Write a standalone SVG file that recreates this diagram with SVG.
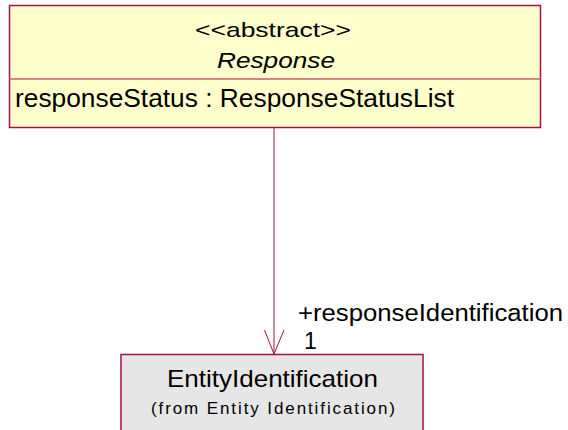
<svg xmlns="http://www.w3.org/2000/svg" width="568" height="430" viewBox="0 0 568 430">
<style>
.box{stroke:#a0104a;stroke-width:1.5}
.t{font-family:"Liberation Sans",Arial,sans-serif;fill:#000}
.ln{stroke:#a0104a;stroke-width:1;fill:none}
</style>
<rect width="568" height="430" fill="#fff"/>
<g id="Response">
<rect class="box" x="9.5" y="5.5" width="531" height="122" fill="#ffffcc"/>
<line x1="9.5" y1="79" x2="540.5" y2="79" stroke="#c06070" stroke-width="1.5"/>
<text class="t" x="273" y="37" font-size="21" text-anchor="middle" textLength="156" lengthAdjust="spacingAndGlyphs">&lt;&lt;abstract&gt;&gt;</text>
<text class="t" x="276" y="68" font-size="22" font-style="italic" text-anchor="middle" textLength="118" lengthAdjust="spacingAndGlyphs">Response</text>
<text class="t" x="15" y="107" font-size="25" textLength="439" lengthAdjust="spacingAndGlyphs">responseStatus : ResponseStatusList</text>
</g>
<g id="EntityIdentification">
<rect class="box" x="121" y="354.5" width="302" height="80" fill="#e6e6e6"/>
<text class="t" x="272.5" y="387" font-size="24" text-anchor="middle" textLength="211" lengthAdjust="spacingAndGlyphs">EntityIdentification</text>
<text class="t" x="273" y="414" font-size="17" text-anchor="middle" textLength="244" lengthAdjust="spacing">(from Entity Identification)</text>
</g>
<g id="connectors">
<line class="ln" x1="274" y1="127.5" x2="274" y2="354"/>
<polyline class="ln" points="264.5,330 274,354 284,330"/>
<text class="t" x="298" y="321" font-size="23" textLength="265" lengthAdjust="spacingAndGlyphs">+responseIdentification</text>
<text class="t" x="304" y="349" font-size="23">1</text>
</g>
</svg>
